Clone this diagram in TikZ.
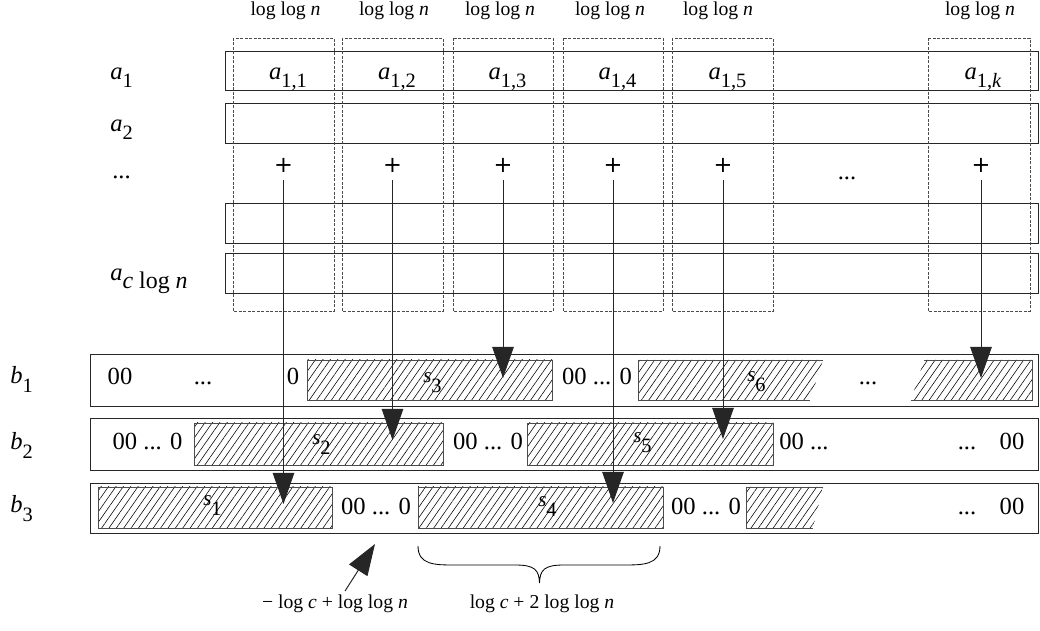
\documentclass[tikz,border=0pt]{standalone}
\usepackage{fontspec}
\setmainfont{Liberation Serif}
\newfontfamily\plusfont{DejaVu Sans}
\usetikzlibrary{arrows.meta,patterns.meta}
% subscript set low, as in the drawing
\newcommand{\lowsub}[2][2mm]{\raisebox{-#1}{\fontsize{14.5}{16}\selectfont #2}}

\begin{document}
\begin{tikzpicture}[x=0.25cm, y=-0.25cm,
    txt/.style={font=\fontsize{17.5}{20}\selectfont, inner sep=0pt, anchor=base},
    small/.style={font=\fontsize{14}{17}\selectfont, inner sep=0pt, anchor=base},
    slabel/.style={font=\fontsize{15}{17}\selectfont, inner sep=0pt, anchor=base west},
    plus/.style={font=\plusfont\fontsize{16}{18}\selectfont, inner sep=0pt},
    rowbox/.style={draw=black!85, line width=0.7pt},
    colbox/.style={draw=black!70, line width=0.6pt, dash pattern=on 2pt off 1.2pt},
    hatch/.style={pattern={Lines[angle=55, distance=4.3pt, line width=0.4pt]}},
    hatchedge/.style={draw=black!70, line width=0.5pt},
    bigarrow/.style={draw=black!85, line width=0.7pt, -{Triangle[length=7.8mm, width=5.4mm]}}]

    \useasboundingbox (0,0) rectangle (104,63.1);

    % Rows a_1 ... a_{c log n}
    \draw[rowbox] (22.5,5.1) rectangle (103.8,9.0);
    \draw[rowbox] (22.5,10.3) rectangle (103.8,14.3);
    \draw[rowbox] (22.5,20.3) rectangle (103.8,24.3);
    \draw[rowbox] (22.5,25.3) rectangle (103.8,29.3);

    % Dashed column boxes, one block of log log n bits each
    \draw[colbox] (23.3,3.8) rectangle (33.4,31.1);
    \draw[colbox] (34.2,3.8) rectangle (44.3,31.1);
    \draw[colbox] (45.3,3.8) rectangle (55.3,31.1);
    \draw[colbox] (56.3,3.8) rectangle (66.3,31.1);
    \draw[colbox] (67.2,3.8) rectangle (77.3,31.1);
    \draw[colbox] (92.8,3.8) rectangle (103.0,31.1);

    % Block widths on top
    \node[small] (w1) at (28.55,1.6) {log log \textit{n}};
    \node[small] (w2) at (39.4,1.6) {log log \textit{n}};
    \node[small] (w3) at (50.0,1.6) {log log \textit{n}};
    \node[small] (w4) at (61.0,1.6) {log log \textit{n}};
    \node[small] (w5) at (71.8,1.6) {log log \textit{n}};
    \node[small] (w6) at (98.0,1.6) {log log \textit{n}};

    % Row labels on the left
    \node[txt, anchor=base west] (ra1) at (11.0,8.0) {\textit{a}\lowsub{1}};
    \node[txt, anchor=base west] (ra2) at (11.0,13.2) {\textit{a}\lowsub{2}};
    \node[txt, anchor=base west] (radots) at (11.2,17.9) {...};
    \node[txt, anchor=base west] (rac) at (11.0,28.1) {\textit{a}\raisebox{-2mm}{\fontsize{17}{19}\selectfont\textit{c} log \textit{n}}};

    % Blocks of the first row
    \node[txt] (a11) at (28.8,8.0) {\textit{a}\lowsub{1,1}};
    \node[txt] (a12) at (39.7,8.0) {\textit{a}\lowsub{1,2}};
    \node[txt] (a13) at (50.75,8.0) {\textit{a}\lowsub{1,3}};
    \node[txt] (a14) at (61.75,8.0) {\textit{a}\lowsub{1,4}};
    \node[txt] (a15) at (72.75,8.0) {\textit{a}\lowsub{1,5}};
    \node[txt] (a1k) at (98.3,8.0) {\textit{a}\lowsub{1,\textit{k}}};

    % Sums of each column
    \node[plus] (p1) at (28.35,16.5) {+};
    \node[plus] (p2) at (39.25,16.5) {+};
    \node[plus] (p3) at (50.3,16.5) {+};
    \node[plus] (p4) at (61.3,16.5) {+};
    \node[plus] (p5) at (72.3,16.5) {+};
    \node[plus] (p6) at (98.1,16.5) {+};
    \node[txt] (pdots) at (84.7,18.0) {...};

    % Rows b_1, b_2, b_3
    \draw[rowbox] (9.0,35.4) rectangle (103.8,40.6);
    \draw[rowbox] (9.0,41.8) rectangle (103.8,47.0);
    \draw[rowbox] (9.0,48.3) rectangle (103.8,53.3);
    \node[txt, anchor=base west] (rb1) at (1.0,38.4) {\textit{b}\lowsub[2.2mm]{1}};
    \node[txt, anchor=base west] (rb2) at (1.0,45.0) {\textit{b}\lowsub[2.2mm]{2}};
    \node[txt, anchor=base west] (rb3) at (1.0,51.3) {\textit{b}\lowsub[2.2mm]{3}};

    % Hatched blocks in b_1
    \path[hatch] (30.7,36.0) rectangle (55.2,40.0);
    \draw[hatchedge] (30.7,36.0) rectangle (55.2,40.0);
    \path[hatch] (63.8,36.0) -- (82.3,36.0) -- (81.0,40.0) -- (63.8,40.0) -- cycle;
    \draw[hatchedge] (82.3,36.0) -- (63.8,36.0) -- (63.8,40.0) -- (81.0,40.0);
    \path[hatch] (92.4,36.0) -- (103.2,36.0) -- (103.2,40.0) -- (91.1,40.0) -- cycle;
    \draw[hatchedge] (92.4,36.0) -- (103.2,36.0) -- (103.2,40.0) -- (91.1,40.0);

    % Hatched blocks in b_2
    \path[hatch] (19.4,42.3) rectangle (44.3,46.5);
    \draw[hatchedge] (19.4,42.3) rectangle (44.3,46.5);
    \path[hatch] (52.7,42.3) rectangle (77.3,46.5);
    \draw[hatchedge] (52.7,42.3) rectangle (77.3,46.5);

    % Hatched blocks in b_3
    \path[hatch] (9.8,48.7) rectangle (33.2,52.8);
    \draw[hatchedge] (9.8,48.7) rectangle (33.2,52.8);
    \path[hatch] (41.8,48.7) rectangle (66.3,52.8);
    \draw[hatchedge] (41.8,48.7) rectangle (66.3,52.8);
    \path[hatch] (74.6,48.7) -- (82.3,48.7) -- (81.3,52.8) -- (74.6,52.8) -- cycle;
    \draw[hatchedge] (82.3,48.7) -- (74.6,48.7) -- (74.6,52.8) -- (81.3,52.8);

    % Where each sum lands
    \coordinate (s1) at (21.5,50.4);
    \coordinate (s2) at (31.85,44.0);
    \coordinate (s3) at (42.95,37.8);
    \coordinate (s4) at (54.05,50.3);
    \coordinate (s5) at (65.0,43.9);
    \coordinate (s7) at (97.3,37.8);

    % Names of the sums
    \node[slabel] (ls1) at (20.3,50.6) {\textit{s}\lowsub[2.3mm]{1}};
    \node[slabel] (ls2) at (31.2,44.5) {\textit{s}\lowsub[2.3mm]{2}};
    \node[slabel] (ls3) at (42.3,38.3) {\textit{s}\lowsub[2.3mm]{3}};
    \node[slabel] (ls4) at (53.8,50.7) {\textit{s}\lowsub[2.3mm]{4}};
    \node[slabel] (ls5) at (63.3,44.3) {\textit{s}\lowsub[2.3mm]{5}};
    \node[slabel] (ls6) at (74.7,38.2) {\textit{s}\lowsub[2.3mm]{6}};

    % Zero runs between the blocks
    \node[txt] (z11) at (12.0,38.5) {00};
    \node[txt] (z12) at (20.3,38.5) {...};
    \node[txt] (z13) at (29.3,38.5) {0};
    \node[txt] (z14) at (59.7,38.5) {00 ... 0};
    \node[txt] (z15) at (86.8,38.5) {...};
    \node[txt] (z21) at (14.75,45.0) {00 ... 0};
    \node[txt] (z22) at (48.8,45.0) {00 ... 0};
    \node[txt] (z23) at (80.4,45.0) {00 ...};
    \node[txt] (z24) at (96.7,45.0) {...};
    \node[txt] (z25) at (101.2,45.0) {00};
    \node[txt] (z31) at (37.6,51.5) {00 ... 0};
    \node[txt] (z32) at (70.6,51.5) {00 ... 0};
    \node[txt] (z33) at (96.7,51.5) {...};
    \node[txt] (z34) at (101.2,51.5) {00};

    % Arrows from the sums down to b
    \draw[bigarrow, shorten <=1.8mm] (p1.south) -- (p1 |- s1);
    \draw[bigarrow, shorten <=1.8mm] (p2.south) -- (p2 |- s2);
    \draw[bigarrow, shorten <=1.8mm] (p3.south) -- (p3 |- s3);
    \draw[bigarrow, shorten <=1.8mm] (p4.south) -- (p4 |- s4);
    \draw[bigarrow, shorten <=1.8mm] (p5.south) -- (p5 |- s5);
    \draw[bigarrow, shorten <=1.8mm] (p6.south) -- (p6 |- s7);

    % Gap between two blocks
    \node[small] (gaplbl) at (33.5,60.9) {− log \textit{c} + log log \textit{n}};
    \coordinate (gap) at (37.5,54.4);
    \draw[bigarrow] ([xshift=0.25cm, yshift=0.1cm]gaplbl.north) -- (gap);

    % Brace under s_4
    \draw[line width=0.6pt] (41.8,54.6) .. controls (41.8,56.5) and (43.5,56.5) .. (45.5,56.5)
        -- (51.5,56.5) .. controls (53.5,56.5) and (53.9,57.0) .. (53.95,58.3)
        .. controls (54.0,57.0) and (54.4,56.5) .. (56.4,56.5)
        -- (62.3,56.5) .. controls (64.3,56.5) and (66.0,56.5) .. (66.0,54.6);
    \node[small] (lenlbl) at (54.2,60.9) {log \textit{c} + 2 log log \textit{n}};

\end{tikzpicture}
\end{document}
